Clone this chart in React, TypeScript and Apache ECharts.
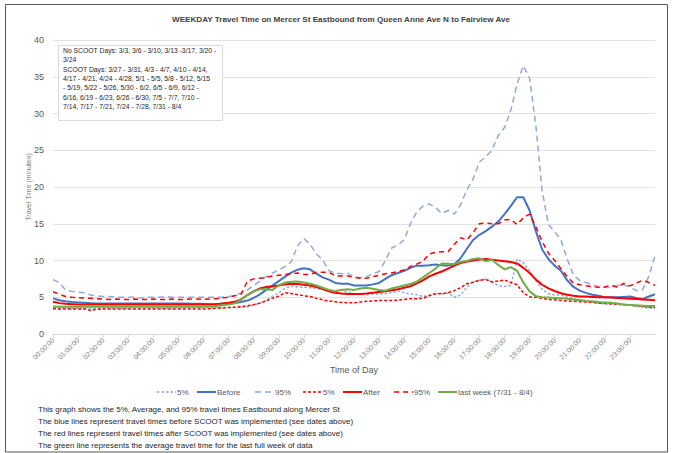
import React, { useEffect, useRef } from "react";
import * as echarts from "echarts";

// x positions: minutes after midnight, one slot every 15 minutes (00:00 .. 24:00)
const slotMinutes: number[] = Array.from({ length: 97 }, (_, i) => i * 15);

const before5 = [
  3.6, 3.55, 3.5, 3.5, 3.5, 3.5, 3.45, 3.5,
  3.5, 3.5, 3.5, 3.5, 3.5, 3.5, 3.5, 3.5,
  3.5, 3.5, 3.5, 3.5, 3.5, 3.55, 3.55, 3.55,
  3.6, 3.6, 3.6, 3.6, 3.6, 3.6, 3.65, 3.7,
  3.9, 4.2, 4.6, 5.1, 5.6, 6.2, 6.5, 6.4,
  6.35, 6.3, 6.2, 6.1, 5.95, 5.95, 5.95, 5.7,
  5.45, 5.4, 5.35, 5.4, 5.45, 5.5, 5.6, 5.9,
  5.6, 5.45, 5.35, 5.1, 5.3, 5.55, 5.45, 5.55,
  5.0, 5.3, 6.4, 7.1, 7.3, 7.5, 7.05, 6.6,
  6.45, 6.6, 10.2, 9.7, 8.6, 7.3, 6.1, 5.5,
  5.3, 5.3, 5.0, 4.8, 4.65, 4.45, 4.35, 4.2,
  4.1, 4.05, 4.0, 3.95, 3.9, 3.75, 3.65, 3.55,
  3.5,
];

const beforeAvg = [
  4.85, 4.6, 4.45, 4.35, 4.3, 4.25, 4.2, 4.15,
  4.15, 4.15, 4.15, 4.15, 4.15, 4.15, 4.15, 4.15,
  4.15, 4.15, 4.15, 4.15, 4.15, 4.15, 4.1, 4.1,
  4.1, 4.05, 4.05, 4.1, 4.15, 4.2, 4.35, 4.55,
  4.9, 5.4, 6.0, 6.6, 7.2, 7.8, 8.35, 8.75,
  8.95, 8.8, 8.2, 7.7, 7.4, 6.95, 6.85, 6.85,
  6.6, 6.6, 6.6, 6.75, 6.95, 7.5, 8.0, 8.3,
  8.6, 9.0, 9.3, 9.3, 9.35, 9.45, 9.35, 9.3,
  9.5, 10.3, 11.6, 12.8, 13.5, 14.0, 14.6, 15.3,
  16.3, 17.4, 18.6, 18.6, 16.8, 14.0, 11.5, 10.2,
  9.3, 8.6, 7.3, 6.4, 5.9, 5.6, 5.35, 5.2,
  5.0, 5.0, 5.0, 5.05, 5.1, 4.9, 4.75, 5.1,
  5.4,
];

const before95 = [
  7.4, 7.0, 6.0, 5.8, 5.7, 5.6, 5.3, 5.2,
  5.1, 5.1, 5.0, 5.0, 5.0, 5.0, 4.9, 5.0,
  5.0, 5.0, 5.1, 5.0, 5.0, 5.0, 5.0, 5.0,
  5.0, 5.0, 5.0, 5.0, 5.1, 5.2, 5.6, 6.0,
  6.6, 7.2, 7.8, 8.3, 8.7, 9.2, 9.8, 12.0,
  13.0, 12.2, 10.9, 10.1, 8.6, 8.3, 8.2, 8.3,
  7.7, 7.7, 7.8, 8.2, 8.5, 10.0, 11.7, 12.1,
  12.8, 15.0, 16.6, 17.4, 17.7, 17.2, 16.4, 16.8,
  16.3, 17.6, 19.6, 21.1, 23.4, 24.1, 25.0, 27.0,
  28.1, 30.4, 34.0, 36.5, 34.8, 28.4, 19.5, 14.9,
  13.9, 12.8, 10.2, 8.0, 7.3, 7.0, 6.7, 6.4,
  6.35, 6.4, 6.6, 6.7, 6.4, 5.9, 6.0, 7.8,
  10.6,
];

const after5 = [
  3.45, 3.4, 3.4, 3.4, 3.4, 3.4, 3.2, 3.35,
  3.4, 3.4, 3.4, 3.4, 3.4, 3.4, 3.4, 3.4,
  3.4, 3.4, 3.4, 3.4, 3.4, 3.4, 3.4, 3.4,
  3.4, 3.45, 3.5, 3.55, 3.6, 3.65, 3.7, 3.85,
  4.0, 4.2, 4.5, 4.85, 5.15, 5.6, 5.5, 5.35,
  5.2, 5.1, 4.85, 4.65, 4.5, 4.4, 4.3, 4.25,
  4.25, 4.35, 4.45, 4.5, 4.55, 4.55, 4.55, 4.6,
  4.7, 4.8, 4.8, 4.85, 5.2, 5.45, 5.5, 5.6,
  5.9, 6.3, 6.85, 7.05, 7.3, 7.4, 7.1, 7.2,
  7.35, 7.0, 6.7, 5.6, 5.05, 5.0, 4.85, 4.7,
  4.65, 4.55, 4.5, 4.45, 4.4, 4.35, 4.3, 4.2,
  4.15, 4.1, 4.05, 4.0, 3.95, 3.85, 3.75, 3.65,
  3.6,
];

const afterAvg = [
  4.4, 4.2, 4.1, 4.05, 4.0, 4.0, 4.0, 4.0,
  4.0, 4.0, 4.0, 4.0, 4.0, 4.0, 4.0, 4.0,
  4.0, 4.0, 4.0, 4.0, 4.0, 4.0, 4.0, 4.0,
  4.0, 4.0, 4.05, 4.15, 4.25, 4.4, 4.7, 5.3,
  5.8, 6.2, 6.4, 6.5, 6.6, 6.75, 6.85, 6.8,
  6.7, 6.6, 6.4, 6.1, 5.8, 5.6, 5.5, 5.45,
  5.45, 5.45, 5.5, 5.6, 5.7, 5.8, 5.95, 6.1,
  6.3, 6.5, 6.9, 7.3, 7.85, 8.2, 8.5, 8.9,
  9.3, 9.65, 9.85, 10.0, 10.15, 10.2, 10.1, 10.0,
  9.9, 9.8, 9.6, 9.0, 8.3, 7.4, 6.7, 6.2,
  5.85, 5.55, 5.35, 5.2, 5.1, 5.1, 5.05, 5.0,
  5.0, 4.95, 4.9, 4.85, 4.8, 4.75, 4.7, 4.65,
  4.6,
];

const after95 = [
  5.75, 5.4, 5.1, 5.0, 4.95, 4.9, 4.85, 4.8,
  4.75, 4.7, 4.75, 4.7, 4.7, 4.75, 4.7, 4.7,
  4.75, 4.7, 4.7, 4.75, 4.7, 4.7, 4.75, 4.75,
  4.7, 4.75, 4.8, 4.9, 5.0, 5.2, 5.4, 7.2,
  7.5, 7.6, 7.7, 7.9, 8.0, 8.1, 8.2, 8.3,
  8.1, 8.1, 8.4, 8.4, 8.4, 7.9, 7.9, 7.9,
  7.7, 7.6, 7.6, 7.8, 8.0, 8.2, 8.3, 8.5,
  8.7, 9.2, 9.5, 9.9, 10.9, 11.1, 11.2, 11.2,
  12.2, 13.1, 12.8, 13.8, 15.0, 15.1, 15.0, 15.0,
  15.5, 15.6, 14.9, 15.8, 16.3, 14.6, 12.6, 11.0,
  10.0, 8.9, 7.8, 6.9, 6.7, 6.55, 6.45, 6.35,
  6.4, 6.65, 6.35, 6.9, 6.55, 6.9, 7.3, 7.0,
  6.6,
];

const lastWeek = [
  3.75, 3.7, 3.7, 3.7, 3.7, 3.7, 3.7, 3.7,
  3.7, 3.7, 3.7, 3.7, 3.7, 3.7, 3.7, 3.7,
  3.7, 3.7, 3.7, 3.7, 3.7, 3.7, 3.7, 3.7,
  3.7, 3.75, 3.8, 3.9, 4.0, 4.2, 4.7, 5.3,
  5.8, 6.1, 6.1, 6.0, 6.6, 7.0, 7.1, 7.15,
  7.0, 6.85, 6.6, 6.3, 6.0, 5.8, 6.0, 6.1,
  6.0, 6.2, 6.3, 6.15, 6.0, 5.9, 6.2, 6.4,
  6.6, 6.8, 7.1, 7.7, 8.3, 8.9, 9.6, 9.55,
  9.5, 9.8, 9.95, 10.2, 10.3, 9.9, 10.1, 9.4,
  8.8, 9.1, 8.6, 7.0, 5.8, 5.15, 5.0, 4.95,
  4.9, 4.85, 4.8, 4.7, 4.6, 4.5, 4.45, 4.35,
  4.3, 4.25, 4.15, 4.0, 3.95, 3.9, 3.85, 3.8,
  3.8,
];

const seriesNames = ["5%", "Before", "95%", "5% ", "After", "95% ", "last week (7/31 - 8/4)"];
const legendLefts = [157, 197, 255, 303, 343, 394, 438];

const titleText = "WEEKDAY Travel Time on Mercer St Eastbound from Queen Anne Ave N to Fairview Ave";
const noteLines = [
  "No SCOOT Days: 3/3, 3/6 - 3/10, 3/13 -3/17, 3/20 -",
  "3/24",
  "SCOOT Days: 3/27 - 3/31, 4/3 - 4/7, 4/10 - 4/14,",
  "4/17 - 4/21, 4/24 - 4/28, 5/1 - 5/5, 5/8 - 5/12, 5/15",
  "- 5/19, 5/22 - 5/26, 5/30 - 6/2, 6/5 - 6/9, 6/12 -",
  "6/16, 6/19 - 6/23, 6/26 - 6/30, 7/5 - 7/7, 7/10 -",
  "7/14, 7/17 - 7/21, 7/24 - 7/28, 7/31 - 8/4",
];
const footLines = [
  "This graph shows the 5%, Average, and 95% travel times Eastbound along Mercer St",
  "The blue lines represent travel times before SCOOT was implemented (see dates above)",
  "The red lines represent travel times after SCOOT was implemented (see dates above)",
  "The green line represents the average travel time for the last full week of data",
];

const FONT = "'Liberation Sans Narrow', 'Liberation Sans', Arial, sans-serif";
const LIGHT_BLUE = "#8FAADC";
const BLUE = "#4472C4";
const RED = "#FF0000";
const GREEN = "#70AD47";

type Style = { color: string; width: number; dash: number[] | null };
const seriesStyles: Style[] = [
  { color: LIGHT_BLUE, width: 1.5, dash: [2.5, 2] },
  { color: BLUE, width: 2, dash: null },
  { color: LIGHT_BLUE, width: 1.5, dash: [6, 4] },
  { color: RED, width: 1.5, dash: [3, 2] },
  { color: RED, width: 2, dash: null },
  { color: RED, width: 1.5, dash: [5, 4] },
  { color: GREEN, width: 2, dash: null },
];
const seriesValues = [before5, beforeAvg, before95, after5, afterAvg, after95, lastWeek];

function pairs(values: number[]) {
  return slotMinutes.map((m, i) => [m, values[i]]);
}

export default function App() {
  const ref = useRef<HTMLDivElement>(null);
  useEffect(() => {
    if (!ref.current) return;
    const chart = echarts.init(ref.current, null, { renderer: "svg" });
    const pad2 = (n: number) => (n < 10 ? "0" + n : "" + n);

    const legendGraphics: any[] = [];
    seriesNames.forEach((n, i) => {
      const st = seriesStyles[i];
      const x0 = legendLefts[i];
      legendGraphics.push({
        type: "line",
        shape: { x1: x0, y1: 392, x2: x0 + 19, y2: 392 },
        style: {
          stroke: st.color,
          lineWidth: st.width,
          lineDash: st.dash || undefined,
        },
        silent: true,
      });
      legendGraphics.push({
        type: "text",
        x: x0 + 20,
        y: 392,
        style: {
          text: n.trim(),
          fontSize: 8,
          fontFamily: FONT,
          fill: "#595959",
          verticalAlign: "middle",
          align: "left",
        },
        silent: true,
      });
    });

    const option: any = {
      animation: false,
      backgroundColor: "#ffffff",
      textStyle: { fontFamily: FONT },
      grid: { left: 53, right: 18, top: 40, bottom: 119, containLabel: false },
      xAxis: {
        type: "value",
        min: 0,
        max: 1440,
        interval: 60,
        name: "Time of Day",
        nameLocation: "middle",
        nameGap: 31,
        nameMoveOverlap: false,
        nameTextStyle: { fontSize: 9, color: "#595959", fontFamily: FONT },
        axisLine: { show: true, lineStyle: { color: "#D9D9D9", width: 1 } },
        axisTick: { show: true, length: 4, lineStyle: { color: "#D9D9D9" } },
        splitLine: { show: false },
        axisLabel: {
          rotate: 45,
          fontSize: 7,
          color: "#7F7F7F",
          margin: 5,
          showMaxLabel: false,
          fontFamily: FONT,
          formatter: (v: number) => (v >= 1440 ? "" : pad2(Math.round(v / 60)) + ":00:00"),
        },
      },
      yAxis: {
        type: "value",
        min: 0,
        max: 40,
        interval: 5,
        name: "Travel Time (minutes)",
        nameLocation: "middle",
        nameGap: 21,
        nameMoveOverlap: false,
        nameTextStyle: { fontSize: 7, color: "#7F7F7F", fontFamily: FONT },
        axisLine: { show: false },
        axisTick: { show: false },
        axisLabel: { fontSize: 9, color: "#595959", margin: 9, fontFamily: FONT },
        splitLine: { show: true, lineStyle: { color: "#E3E3E3", width: 1 } },
      },
      series: seriesNames.map((n, i) => ({
        type: "line",
        name: n,
        data: pairs(seriesValues[i]),
        symbol: "none",
        showSymbol: false,
        lineStyle: {
          color: seriesStyles[i].color,
          width: seriesStyles[i].width,
          type: seriesStyles[i].dash || "solid",
        },
        itemStyle: { color: seriesStyles[i].color },
        emphasis: { disabled: true },
      })),
      graphic: [
        {
          type: "rect",
          shape: { x: 5.5, y: 4.5, width: 662, height: 447.5 },
          style: { fill: "none", stroke: "#555555", lineWidth: 1 },
          silent: true,
          z: 100,
        },
        {
          type: "text",
          x: 341,
          y: 19,
          style: {
            text: titleText,
            align: "center",
            verticalAlign: "middle",
            fontSize: 8.1,
            fontWeight: "bold",
            fontFamily: FONT,
            fill: "#404040",
          },
        },
        {
          type: "rect",
          shape: { x: 58.5, y: 45.5, width: 164, height: 75 },
          style: { fill: "#ffffff", stroke: "#D9D9D9", lineWidth: 1 },
          z: 50,
        },
        {
          type: "text",
          x: 63,
          y: 46,
          z: 51,
          style: {
            text: noteLines.join("\n"),
            fontSize: 6.8,
            lineHeight: 9.3,
            fontFamily: FONT,
            fill: "#262626",
          },
        },
        {
          type: "text",
          x: 38,
          y: 404,
          style: {
            text: footLines.join("\n"),
            fontSize: 8,
            lineHeight: 11.8,
            fontFamily: FONT,
            fill: "#262626",
          },
        },
        ...legendGraphics,
      ],
    };
    chart.setOption(option);
    return () => chart.dispose();
  }, []);
  return (
    <div
      ref={ref}
      style={{ position: "absolute", left: 0, top: 0, width: 673, height: 453 }}
    />
  );
}
